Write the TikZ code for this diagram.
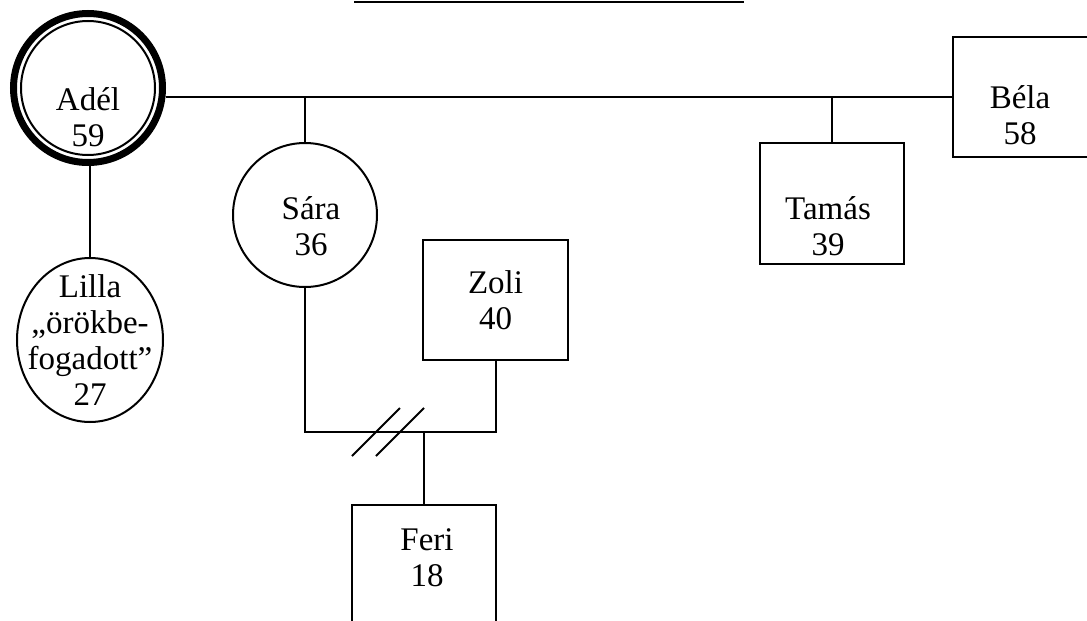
\documentclass[tikz,border=0pt]{standalone}
\usepackage{fontspec}
\setmainfont{Liberation Serif}
\usetikzlibrary{positioning, shapes.geometric, calc}

\begin{document}
\begin{tikzpicture}[x=1pt, y=-1pt,
    female/.style={draw=black, line width=2pt, circle, minimum size=144pt, inner sep=0pt},
    adopted/.style={draw=black, line width=2pt, ellipse, minimum width=146pt, minimum height=164pt, inner sep=0pt},
    male/.style={draw=black, line width=2pt, rectangle, minimum width=144pt, minimum height=120pt, inner sep=0pt},
    nametxt/.style={align=center, inner sep=0pt, font=\fontsize{33}{36}\selectfont},
    edge/.style={line width=2pt}
]
\useasboundingbox (0,0) rectangle (1087,621);

% Personen
\node[female, minimum size=149pt, line width=7pt, label={[nametxt, yshift=-29pt]center:{Adél\\59}}] (adel) at (88,88) {};
\node[adopted, below=91pt of adel, xshift=2pt, label={[nametxt]center:{Lilla\\„örökbe-\\fogadott”\\27}}] (lilla) {};
\node[female, label={[nametxt, xshift=6pt, yshift=-11pt]center:{Sára\\36}}] (sara) at (305,215) {};
\node[male, minimum height=121pt, label={[nametxt, xshift=-4pt, yshift=-23pt]center:{Tamás\\39}}] (tamas) at (832,203.5) {};
\node[male, label={[nametxt, xshift=-5pt, yshift=-18pt]center:{Béla\\58}}] (bela) at (1025,97) {};
\node[male, minimum width=145pt, label={[nametxt]center:{Zoli\\40}}] (zoli) at (495.5,300) {};
\coordinate (bond) at (424,432);
\node[male, below=72pt of bond, label={[nametxt, xshift=3pt, yshift=7pt]center:{Feri\\18}}] (feri) {};

% Linien
\draw[edge] (adel.center) circle[radius=67pt];
\draw[edge] (bela.west) -- (bela.west -| adel.east);
\draw[edge] (sara.north) -- (sara.north |- bela.west);
\draw[edge] (tamas.north) -- (tamas.north |- bela.west);
\draw[edge] (lilla.north) -- (lilla.north |- adel.south);
\draw[edge] (sara.south) |- (bond) -| (zoli.south);
\draw[edge] (bond) -- (feri.north);
\draw[edge] ([shift={(-72,24)}]bond) -- ([shift={(-24,-24)}]bond);
\draw[edge] ([shift={(-48,24)}]bond) -- ([shift={(0,-24)}]bond);

% Titel (abgeschnitten)
\coordinate (titleL) at (354,2);
\coordinate (titleR) at (744,2);
\draw[edge] (titleL) -- (titleR);

\end{tikzpicture}
\end{document}
